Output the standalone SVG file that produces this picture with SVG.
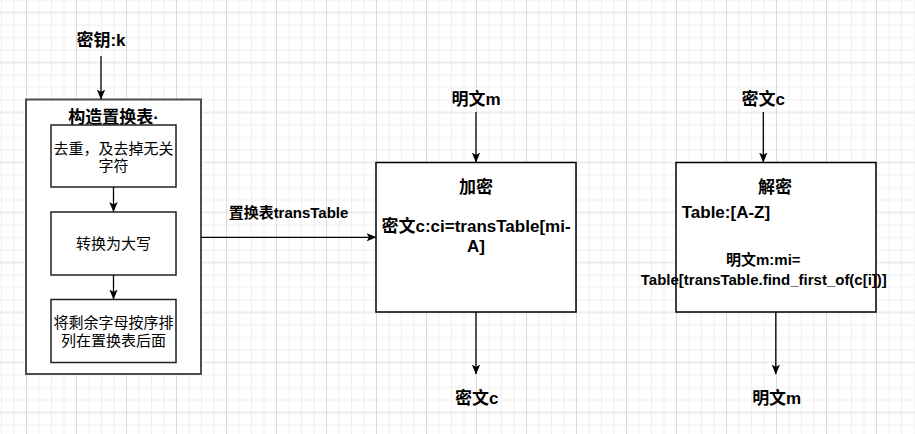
<svg xmlns="http://www.w3.org/2000/svg" width="915" height="434" viewBox="0 0 915 434">
<style>
text{font-family:"Liberation Sans","Noto Sans CJK SC",sans-serif;fill:#000;dominant-baseline:central;text-anchor:middle}
.h{font-size:17px;font-weight:bold}
.s{font-size:15px;font-weight:normal}
.b{font-size:15px;font-weight:bold}
.outer{fill:#fff;stroke:#4d4d4d;stroke-width:2}
.inner{fill:#fff;stroke:#222;stroke-width:1.5}
.box{fill:#fff;stroke:#000;stroke-width:1.5}
.c{stroke:#000;stroke-width:1.3;fill:none;marker-end:url(#arr)}
</style>
<defs>
<pattern id="grid" patternUnits="userSpaceOnUse" x="1" y="-0.5" width="50" height="50">
<path d="M0.5 0V50M13 0V50M38 0V50M0 0.5H50M0 25.5H50M0 38H50" stroke="#efefef" stroke-width="1" fill="none"/>
<path d="M25.5 0V50M0 13H50" stroke="#dadada" stroke-width="1" fill="none"/>
</pattern>
<marker id="arr" viewBox="0 0 10 10" refX="9.5" refY="5" markerWidth="10" markerHeight="10" markerUnits="userSpaceOnUse" orient="auto">
<path d="M0,0.8 L10,5 L0,9.2 L2.5,5 Z" fill="#000"/>
</marker>
</defs>
<rect width="915" height="434" fill="#fff"/>
<rect width="915" height="434" fill="url(#grid)"/>
<g id="key"><text class="h" x="101" y="40">密钥:k</text></g>
<g id="build">
<rect class="outer" x="26" y="99.5" width="175" height="274.5"/>
<text class="h" x="113.5" y="117">构造置换表·</text>
</g>
<g id="dedup">
<rect class="inner" x="51" y="125" width="125" height="62"/>
<text class="s" x="113.5" y="148">去重，及去掉无关</text>
<text class="s" x="113.5" y="165">字符</text>
</g>
<g id="upper">
<rect class="inner" x="51" y="212" width="125" height="63"/>
<text class="s" x="113.5" y="243">转换为大写</text>
</g>
<g id="rest">
<rect class="inner" x="51" y="299.5" width="125" height="63"/>
<text class="s" x="113.5" y="322">将剩余字母按序排</text>
<text class="s" x="113.5" y="340">列在置换表后面</text>
</g>
<g id="plain-in"><text class="h" x="476" y="99">明文m</text></g>
<g id="encrypt">
<rect class="box" x="376" y="162.5" width="200" height="149.5"/>
<text class="h" x="476" y="187">加密</text>
<text class="h" x="476" y="226.7">密文c:ci=transTable[mi-</text>
<text class="h" x="476" y="246.7">A]</text>
</g>
<g id="cipher-out"><text class="h" x="476.7" y="398">密文c</text></g>
<g id="cipher-in"><text class="h" x="763.3" y="99">密文c</text></g>
<g id="decrypt">
<rect class="box" x="676" y="162.5" width="200" height="149.5"/>
<text class="h" x="775" y="187">解密</text>
<text class="h" x="681.7" y="212.7" style="text-anchor:start">Table:[A-Z]</text>
<text class="b" x="763.3" y="259">明文m:mi=</text>
<text class="b" x="763.8" y="279">Table[transTable.find_first_of(c[i])]</text>
</g>
<g id="plain-out"><text class="h" x="776.7" y="398">明文m</text></g>
<g id="connectors">
<path class="c" d="M101,56 V99"/>
<path class="c" d="M113.5,187 V211.5"/>
<path class="c" d="M113.5,275 V299"/>
<path class="c" d="M201,237.3 H376"/>
<path class="c" d="M476,112 V162"/>
<path class="c" d="M476,312 V374"/>
<path class="c" d="M763.3,112 V162"/>
<path class="c" d="M775.8,312 V374"/>
<text class="b" x="288.5" y="212">置换表transTable</text>
</g>
</svg>
